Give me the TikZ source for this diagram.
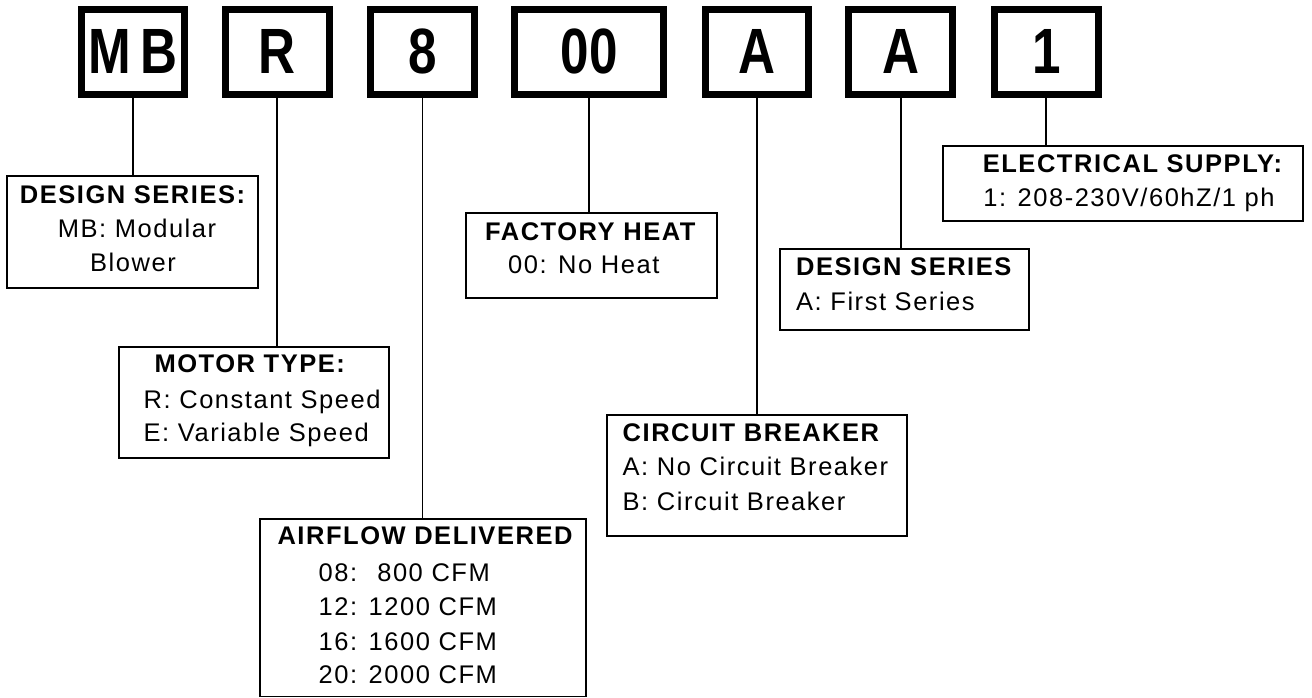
\documentclass[tikz,border=0pt]{standalone}
\usepackage{fontspec}
\setmainfont{Liberation Sans}
\newfontfamily\lblfont[LetterSpace=6]{Liberation Sans}
\newfontfamily\bigfont[FakeStretch=0.8]{Liberation Sans}
\tikzset{
  codebox/.style={draw, line width=7pt, inner sep=0pt, minimum height=85.2pt,
    text height=46.3pt, text depth=3.6pt,
    font={\bigfont\bfseries\fontsize{64}{64}\selectfont}},
  infobox/.style={draw, line width=1.8pt, inner sep=0pt},
  ttl/.style={font={\lblfont\bfseries\fontsize{25.5}{25.5}\selectfont}, inner sep=0pt},
  txt/.style={font={\lblfont\fontsize{25.5}{25.5}\selectfont}, inner sep=0pt},
  conn/.style={line width=1.8pt}
}
\begin{document}
\begin{tikzpicture}[x=1pt,y=-1pt]
\useasboundingbox (0,0) rectangle (1312,698);
% code boxes
\node[codebox, minimum width=102.4pt] (mb)    at (133,52.4)    {M\kern9pt B};
\node[codebox, minimum width=103.7pt] (r)     at (277.15,52.4) {R};
\node[codebox, minimum width=103.3pt] (eight) at (422.55,52.4) {8};
\node[codebox, minimum width=148.5pt] (zz)    at (589.15,52.4) {00};
\node[codebox, minimum width=102.8pt] (aa)    at (756.8,52.4)  {A};
\node[codebox, minimum width=103.6pt] (ab)    at (900.7,52.4)  {A};
\node[codebox, minimum width=103.7pt] (one)   at (1046.35,52.4){1};
% info boxes
\node[infobox, minimum width=250.4pt, minimum height=111.7pt] (ds1) at (132.5,231.85) {};
\node[infobox, minimum width=270.3pt, minimum height=111pt]   (mot) at (254.15,402.2) {};
\node[infobox, minimum width=325.7pt, minimum height=177.5pt] (air) at (422.85,607.75) {};
\node[infobox, minimum width=251pt,   minimum height=85pt]    (fac) at (591.2,255.2) {};
\node[infobox, minimum width=249.3pt, minimum height=80.7pt]  (ds2) at (904.65,289.65) {};
\node[infobox, minimum width=300.6pt, minimum height=120.7pt] (cb)  at (757,475.35) {};
\node[infobox, minimum width=360pt,   minimum height=74.7pt]  (el)  at (1123.3,183.35) {};
% texts
\node[ttl, anchor=base] (ds1a) at (132.5,203.3) {DESIGN SERIES:};
\node[txt, anchor=base] (ds1b) at (137,237.7) {MB: Modular};
\node[txt, anchor=base] (ds1c) at (133,271) {Blower};
\node[ttl, anchor=base] (mota) at (249.7,372.7) {MOTOR TYPE:};
\node[txt, anchor=base west] (motb) at (143.5,408.3) {R: Constant Speed};
\node[txt, anchor=base west] (motc) at (143.5,441.7) {E: Variable Speed};
\node[ttl, anchor=base] (aira) at (425,544) {AIRFLOW DELIVERED};
\node[txt, anchor=base west] (airb) at (318.5,581) {08:~ 800 CFM};
\node[txt, anchor=base west] (airc) at (318.5,615.7) {12: 1200 CFM};
\node[txt, anchor=base west] (aird) at (318.5,650) {16: 1600 CFM};
\node[txt, anchor=base west] (aire) at (318.5,683.3) {20: 2000 CFM};
\node[ttl, anchor=base] (faca) at (590.3,240.7) {FACTORY HEAT};
\node[txt, anchor=base] (facb) at (583.8,273.3) {00: No Heat};
\node[ttl, anchor=base west] (ds2a) at (796,275.7) {DESIGN SERIES};
\node[txt, anchor=base west] (ds2b) at (796,310) {A: First Series};
\node[ttl, anchor=base west] (cba) at (622.5,441.7) {CIRCUIT BREAKER};
\node[txt, anchor=base west] (cbb) at (622.5,475) {A: No Circuit Breaker};
\node[txt, anchor=base west] (cbc) at (622.5,510) {B: Circuit Breaker};
\node[ttl, anchor=base] (ela) at (1132.5,172.7) {ELECTRICAL SUPPLY:};
\node[txt, anchor=base] (elb) at (1129,206.7) {1: 208-230V/60hZ/1 ph};
% connectors
\draw[conn] (mb.south) -- (mb.south |- ds1.north);
\draw[conn] (r.south) -- (r.south |- mot.north);
\draw[conn] (eight.south) -- (eight.south |- air.north);
\draw[conn] (zz.south) -- (zz.south |- fac.north);
\draw[conn] (aa.south) -- (aa.south |- cb.north);
\draw[conn] (ab.south) -- (ab.south |- ds2.north);
\draw[conn] (one.south) -- (one.south |- el.north);
\end{tikzpicture}
\end{document}
